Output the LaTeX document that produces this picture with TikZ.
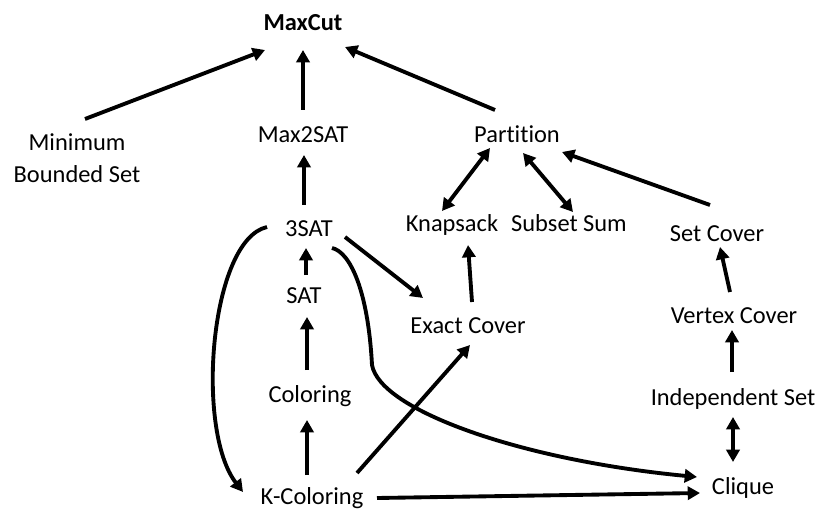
\documentclass[tikz,border=0pt]{standalone}
\usepackage{fontspec}
\setmainfont{Carlito}[Ligatures=NoCommon]
\usetikzlibrary{arrows.meta}

\begin{document}
\begin{tikzpicture}[x=0.02cm,y=-0.02cm,
  prob/.style={font=\fontsize{13.9}{18}\selectfont,inner sep=2pt,text height=0.95em,text depth=0.15em},
  arr/.style={line width=2.2pt,-{Triangle[length=7pt,width=7.5pt]}},
  darr/.style={line width=2.2pt,{Triangle[length=7pt,width=7.5pt]}-{Triangle[length=7pt,width=7.5pt]}}]
\useasboundingbox (0,0) rectangle (831,520);
% problems
\node[prob,font=\fontsize{13.9}{18}\selectfont\bfseries] (maxcut) at (303,23) {MaxCut};
\node[font=\fontsize{13.9}{18}\selectfont,align=center] (minb) at (77,158) {Minimum\\Bounded Set};
\node[prob] (max2sat) at (303,135) {Max2SAT};
\node[prob] (partition) at (517,135) {Partition};
\node[prob] (3sat) at (309,229) {3SAT};
\node[prob] (knapsack) at (452,224) {Knapsack};
\node[prob] (subsetsum) at (569,224) {Subset Sum};
\node[prob] (setcover) at (717,234) {Set Cover};
\node[prob] (sat) at (304,296) {SAT};
\node[prob] (exactcover) at (468,326) {Exact Cover};
\node[prob] (vertexcover) at (734,316) {Vertex Cover};
\node[prob] (coloring) at (310,395) {Coloring};
\node[prob] (indset) at (733,398) {Independent Set};
\node[prob] (kcoloring) at (312,497) {K-Coloring};
\node[prob] (clique) at (743,487) {Clique};
% reductions
\draw[arr] ([shift={(8,-39)}]minb.center) -- ([shift={(-38,27)}]maxcut.center);
\draw[arr] ([shift={(0,-25)}]max2sat.center) -- ([shift={(0,27)}]maxcut.center);
\draw[arr] ([shift={(-22,-25)}]partition.center) -- ([shift={(42,24)}]maxcut.center);
\draw[arr] ([shift={(-5,-24)}]3sat.center) -- ([shift={(1,20)}]max2sat.center);
\draw[darr] ([shift={(-27,13)}]partition.center) -- ([shift={(-10,-13)}]knapsack.center);
\draw[darr] ([shift={(6,18)}]partition.center) -- ([shift={(4,-12)}]subsetsum.center);
\draw[arr] ([shift={(-7,-29)}]setcover.center) -- ([shift={(45,17)}]partition.center);
\draw[arr] ([shift={(36,8)}]3sat.center) -- ([shift={(-45,-28)}]exactcover.center);
\draw[arr] ([shift={(4,-24)}]exactcover.center) -- ([shift={(16,21)}]knapsack.center);
\draw[arr] ([shift={(2,-21)}]sat.center) -- ([shift={(-3,19)}]3sat.center);
\draw[arr] ([shift={(-3,-25)}]coloring.center) -- ([shift={(3,21)}]sat.center);
\draw[arr] ([shift={(-5,-22)}]kcoloring.center) -- ([shift={(-3,25)}]coloring.center);
\draw[arr] ([shift={(45,-24)}]kcoloring.center) -- ([shift={(2,19)}]exactcover.center);
\draw[arr] ([shift={(65,1)}]kcoloring.center) -- ([shift={(-43,6)}]clique.center);
\draw[arr] ([shift={(23,19)}]3sat.center) .. controls (350,252) and (368,290) .. (372,365)
  .. controls (380,410) and (520,460) .. ([shift={(-46,-10)}]clique.center);
\draw[arr] ([shift={(-42,-2)}]3sat.center) .. controls (210,240) and (195,430) .. ([shift={(-69,-5)}]kcoloring.center);
\draw[arr] ([shift={(-4,-24)}]vertexcover.center) -- ([shift={(3,13)}]setcover.center);
\draw[arr] ([shift={(-1,-26)}]indset.center) -- ([shift={(-2,14)}]vertexcover.center);
\draw[darr] ([shift={(0,19)}]indset.center) -- ([shift={(-10,-25)}]clique.center);
\end{tikzpicture}
\end{document}
